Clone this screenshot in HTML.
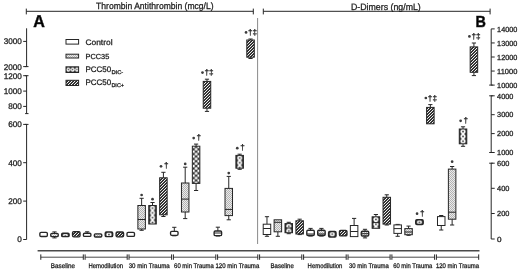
<!DOCTYPE html>
<html><head><meta charset="utf-8"><style>
html,body{margin:0;padding:0;background:#fff;}
body{width:520px;height:271px;overflow:hidden;}
svg{display:block;will-change:transform;}
text{font-family:"Liberation Sans", sans-serif;text-rendering:geometricPrecision;stroke:#1e1e1e;stroke-width:0.28px;}
</style></head><body>
<svg width="520" height="271" viewBox="0 0 520 271" font-family='"Liberation Sans", sans-serif'><defs>
<pattern id="p35" patternUnits="userSpaceOnUse" width="2" height="2"><rect width="2" height="2" fill="#ebebeb"/><rect width="1" height="1" fill="#b2b2b2"/><rect x="1" y="1" width="1" height="1" fill="#b2b2b2"/></pattern>
<pattern id="pm" patternUnits="userSpaceOnUse" x="66.2" y="67.5" width="4.3" height="4.3"><rect width="4.3" height="4.3" fill="#2a2a2a"/><circle cx="2.15" cy="2.15" r="1.95" fill="#fff"/><circle cx="2.15" cy="2.15" r="0.75" fill="#333"/></pattern>
<pattern id="pp" patternUnits="userSpaceOnUse" width="3" height="3"><rect width="3" height="3" fill="#2a2a2a"/><rect x="2" y="0" width="1" height="1" fill="#f0f0f0"/><rect x="1" y="1" width="1" height="1" fill="#f0f0f0"/><rect x="0" y="2" width="1" height="1" fill="#f0f0f0"/><rect x="0" y="0" width="1" height="1" fill="#404040"/><rect x="2" y="1" width="1" height="1" fill="#404040"/><rect x="1" y="2" width="1" height="1" fill="#404040"/></pattern>
<pattern id="pm0" patternUnits="userSpaceOnUse" x="61.63" y="233.40" width="7.5" height="4.8"><rect width="7.5" height="4.8" fill="#2a2a2a"/><circle cx="3.75" cy="2.4" r="2.5" fill="#fff"/><circle cx="3.75" cy="2.4" r="0.85" fill="#333"/></pattern><pattern id="pm1" patternUnits="userSpaceOnUse" x="105.20" y="232.20" width="7.5" height="4.8"><rect width="7.5" height="4.8" fill="#2a2a2a"/><circle cx="3.75" cy="2.4" r="2.5" fill="#fff"/><circle cx="3.75" cy="2.4" r="0.85" fill="#333"/></pattern><pattern id="pm2" patternUnits="userSpaceOnUse" x="148.77" y="205.70" width="7.5" height="4.8"><rect width="7.5" height="4.8" fill="#2a2a2a"/><circle cx="3.75" cy="2.4" r="2.5" fill="#fff"/><circle cx="3.75" cy="2.4" r="0.85" fill="#333"/></pattern><pattern id="pm3" patternUnits="userSpaceOnUse" x="193.59" y="146.80" width="5" height="4.8"><rect width="5" height="4.8" fill="#262626"/><circle cx="0" cy="0" r="1.45" fill="#fff"/><circle cx="5" cy="0" r="1.45" fill="#fff"/><circle cx="0" cy="4.8" r="1.45" fill="#fff"/><circle cx="5" cy="4.8" r="1.45" fill="#fff"/><circle cx="2.5" cy="2.4" r="1.45" fill="#fff"/></pattern><pattern id="pm4" patternUnits="userSpaceOnUse" x="235.91" y="155.60" width="7.5" height="4.8"><rect width="7.5" height="4.8" fill="#2a2a2a"/><circle cx="3.75" cy="2.4" r="2.5" fill="#fff"/><circle cx="3.75" cy="2.4" r="0.85" fill="#333"/></pattern><pattern id="pm5" patternUnits="userSpaceOnUse" x="285.00" y="223.80" width="7.5" height="4.8"><rect width="7.5" height="4.8" fill="#2a2a2a"/><circle cx="3.75" cy="2.4" r="2.5" fill="#fff"/><circle cx="3.75" cy="2.4" r="0.85" fill="#333"/></pattern><pattern id="pm6" patternUnits="userSpaceOnUse" x="328.57" y="231.70" width="7.5" height="4.8"><rect width="7.5" height="4.8" fill="#2a2a2a"/><circle cx="3.75" cy="2.4" r="2.5" fill="#fff"/><circle cx="3.75" cy="2.4" r="0.85" fill="#333"/></pattern><pattern id="pm7" patternUnits="userSpaceOnUse" x="372.14" y="217.00" width="7.5" height="4.8"><rect width="7.5" height="4.8" fill="#2a2a2a"/><circle cx="3.75" cy="2.4" r="2.5" fill="#fff"/><circle cx="3.75" cy="2.4" r="0.85" fill="#333"/></pattern><pattern id="pm8" patternUnits="userSpaceOnUse" x="415.71" y="219.90" width="7.5" height="4.8"><rect width="7.5" height="4.8" fill="#2a2a2a"/><circle cx="3.75" cy="2.4" r="2.5" fill="#fff"/><circle cx="3.75" cy="2.4" r="0.85" fill="#333"/></pattern><pattern id="pm9" patternUnits="userSpaceOnUse" x="459.28" y="129.20" width="7.5" height="4.8"><rect width="7.5" height="4.8" fill="#2a2a2a"/><circle cx="3.75" cy="2.4" r="2.5" fill="#fff"/><circle cx="3.75" cy="2.4" r="0.85" fill="#333"/></pattern></defs><rect width="520" height="271" fill="#fff"/><line x1="26.30" y1="11.30" x2="253.30" y2="11.30" stroke="#262626" stroke-width="1"/><line x1="26.30" y1="8.60" x2="26.30" y2="14.40" stroke="#262626" stroke-width="1"/><line x1="253.30" y1="8.60" x2="253.30" y2="14.40" stroke="#262626" stroke-width="1"/><line x1="263.30" y1="11.30" x2="490.10" y2="11.30" stroke="#262626" stroke-width="1"/><line x1="263.30" y1="8.60" x2="263.30" y2="14.40" stroke="#262626" stroke-width="1"/><line x1="490.10" y1="8.60" x2="490.10" y2="14.40" stroke="#262626" stroke-width="1"/><text x="96.10" y="8.70" font-size="9.2" font-weight="normal" fill="#1e1e1e" textLength="117.50" lengthAdjust="spacingAndGlyphs">Thrombin Antithrombin (mcg/L)</text><text x="350.90" y="9.70" font-size="9.2" font-weight="normal" fill="#1e1e1e" textLength="69.90" lengthAdjust="spacingAndGlyphs">D-Dimers (ng/mL)</text><line x1="257.60" y1="18.00" x2="257.60" y2="244.00" stroke="#8a8a8a" stroke-width="1"/><text x="33.20" y="27.20" font-size="17.0" font-weight="bold" fill="#000" stroke="#000" style="stroke-width:0.5px" textLength="11.60" lengthAdjust="spacingAndGlyphs">A</text><text x="475.40" y="26.60" font-size="16.0" font-weight="bold" fill="#000" stroke="#000" style="stroke-width:0.5px" textLength="10.40" lengthAdjust="spacingAndGlyphs">B</text><line x1="26.60" y1="28.30" x2="26.60" y2="66.60" stroke="#262626" stroke-width="1"/><line x1="26.60" y1="75.70" x2="26.60" y2="113.60" stroke="#262626" stroke-width="1"/><line x1="26.60" y1="124.40" x2="26.60" y2="239.50" stroke="#262626" stroke-width="1"/><line x1="23.20" y1="41.40" x2="26.60" y2="41.40" stroke="#262626" stroke-width="1"/><text x="21.90" y="44.30" font-size="8.2" text-anchor="end" font-weight="normal" fill="#1e1e1e" >3000</text><line x1="23.20" y1="66.60" x2="26.60" y2="66.60" stroke="#262626" stroke-width="1"/><text x="21.90" y="69.50" font-size="8.2" text-anchor="end" font-weight="normal" fill="#1e1e1e" >2000</text><line x1="23.20" y1="75.70" x2="26.60" y2="75.70" stroke="#262626" stroke-width="1"/><text x="21.90" y="78.60" font-size="8.2" text-anchor="end" font-weight="normal" fill="#1e1e1e" >1200</text><line x1="23.20" y1="91.10" x2="26.60" y2="91.10" stroke="#262626" stroke-width="1"/><text x="21.90" y="94.00" font-size="8.2" text-anchor="end" font-weight="normal" fill="#1e1e1e" >1000</text><line x1="23.20" y1="106.40" x2="26.60" y2="106.40" stroke="#262626" stroke-width="1"/><text x="21.90" y="109.30" font-size="8.2" text-anchor="end" font-weight="normal" fill="#1e1e1e" >800</text><line x1="23.20" y1="124.40" x2="26.60" y2="124.40" stroke="#262626" stroke-width="1"/><text x="21.90" y="127.30" font-size="8.2" text-anchor="end" font-weight="normal" fill="#1e1e1e" >600</text><line x1="23.20" y1="162.70" x2="26.60" y2="162.70" stroke="#262626" stroke-width="1"/><text x="21.90" y="165.60" font-size="8.2" text-anchor="end" font-weight="normal" fill="#1e1e1e" >400</text><line x1="23.20" y1="201.10" x2="26.60" y2="201.10" stroke="#262626" stroke-width="1"/><text x="21.90" y="204.00" font-size="8.2" text-anchor="end" font-weight="normal" fill="#1e1e1e" >200</text><line x1="23.20" y1="239.50" x2="26.60" y2="239.50" stroke="#262626" stroke-width="1"/><text x="21.90" y="242.40" font-size="8.2" text-anchor="end" font-weight="normal" fill="#1e1e1e" >0</text><line x1="25.10" y1="66.60" x2="28.50" y2="66.60" stroke="#262626" stroke-width="1"/><line x1="25.10" y1="75.70" x2="28.50" y2="75.70" stroke="#262626" stroke-width="1"/><line x1="25.10" y1="113.60" x2="28.50" y2="113.60" stroke="#262626" stroke-width="1"/><line x1="25.10" y1="124.40" x2="28.50" y2="124.40" stroke="#262626" stroke-width="1"/><line x1="491.20" y1="28.90" x2="491.20" y2="85.10" stroke="#262626" stroke-width="1"/><line x1="491.20" y1="95.80" x2="491.20" y2="152.50" stroke="#262626" stroke-width="1"/><line x1="491.20" y1="163.20" x2="491.20" y2="239.00" stroke="#262626" stroke-width="1"/><line x1="491.20" y1="28.90" x2="494.70" y2="28.90" stroke="#262626" stroke-width="1"/><text x="497.10" y="31.60" font-size="7.4" font-weight="normal" fill="#1e1e1e" textLength="20.20" lengthAdjust="spacingAndGlyphs">14000</text><line x1="491.20" y1="42.95" x2="494.70" y2="42.95" stroke="#262626" stroke-width="1"/><text x="497.10" y="45.65" font-size="7.4" font-weight="normal" fill="#1e1e1e" textLength="20.20" lengthAdjust="spacingAndGlyphs">13000</text><line x1="491.20" y1="57.00" x2="494.70" y2="57.00" stroke="#262626" stroke-width="1"/><text x="497.10" y="59.70" font-size="7.4" font-weight="normal" fill="#1e1e1e" textLength="20.20" lengthAdjust="spacingAndGlyphs">12000</text><line x1="491.20" y1="71.05" x2="494.70" y2="71.05" stroke="#262626" stroke-width="1"/><text x="497.10" y="73.75" font-size="7.4" font-weight="normal" fill="#1e1e1e" textLength="20.20" lengthAdjust="spacingAndGlyphs">11000</text><line x1="491.20" y1="85.10" x2="494.70" y2="85.10" stroke="#262626" stroke-width="1"/><text x="497.10" y="87.80" font-size="7.4" font-weight="normal" fill="#1e1e1e" textLength="20.20" lengthAdjust="spacingAndGlyphs">10000</text><line x1="491.20" y1="95.80" x2="494.70" y2="95.80" stroke="#262626" stroke-width="1"/><text x="497.10" y="98.50" font-size="7.4" font-weight="normal" fill="#1e1e1e" textLength="16.28" lengthAdjust="spacingAndGlyphs">4000</text><line x1="491.20" y1="114.70" x2="494.70" y2="114.70" stroke="#262626" stroke-width="1"/><text x="497.10" y="117.40" font-size="7.4" font-weight="normal" fill="#1e1e1e" textLength="16.28" lengthAdjust="spacingAndGlyphs">3000</text><line x1="491.20" y1="133.60" x2="494.70" y2="133.60" stroke="#262626" stroke-width="1"/><text x="497.10" y="136.30" font-size="7.4" font-weight="normal" fill="#1e1e1e" textLength="16.28" lengthAdjust="spacingAndGlyphs">2000</text><line x1="491.20" y1="152.50" x2="494.70" y2="152.50" stroke="#262626" stroke-width="1"/><text x="497.10" y="155.20" font-size="7.4" font-weight="normal" fill="#1e1e1e" textLength="16.28" lengthAdjust="spacingAndGlyphs">1000</text><line x1="491.20" y1="163.20" x2="494.70" y2="163.20" stroke="#262626" stroke-width="1"/><text x="497.10" y="165.90" font-size="7.4" font-weight="normal" fill="#1e1e1e" textLength="12.36" lengthAdjust="spacingAndGlyphs">600</text><line x1="491.20" y1="188.30" x2="494.70" y2="188.30" stroke="#262626" stroke-width="1"/><text x="497.10" y="191.00" font-size="7.4" font-weight="normal" fill="#1e1e1e" textLength="12.36" lengthAdjust="spacingAndGlyphs">400</text><line x1="491.20" y1="213.50" x2="494.70" y2="213.50" stroke="#262626" stroke-width="1"/><text x="497.10" y="216.20" font-size="7.4" font-weight="normal" fill="#1e1e1e" textLength="12.36" lengthAdjust="spacingAndGlyphs">200</text><line x1="491.20" y1="239.00" x2="494.70" y2="239.00" stroke="#262626" stroke-width="1"/><text x="497.10" y="241.70" font-size="7.4" font-weight="normal" fill="#1e1e1e" textLength="4.52" lengthAdjust="spacingAndGlyphs">0</text><line x1="489.20" y1="85.10" x2="492.70" y2="85.10" stroke="#262626" stroke-width="1"/><line x1="489.20" y1="95.80" x2="492.70" y2="95.80" stroke="#262626" stroke-width="1"/><line x1="489.20" y1="152.50" x2="492.70" y2="152.50" stroke="#262626" stroke-width="1"/><line x1="489.20" y1="163.20" x2="492.70" y2="163.20" stroke="#262626" stroke-width="1"/><line x1="37.60" y1="250.70" x2="479.50" y2="250.70" stroke="#4a4a4a" stroke-width="1.5"/><line x1="40.80" y1="257.20" x2="83.30" y2="257.20" stroke="#4a4a4a" stroke-width="1"/><line x1="40.80" y1="254.40" x2="40.80" y2="259.80" stroke="#262626" stroke-width="1"/><line x1="83.30" y1="254.40" x2="83.30" y2="259.80" stroke="#262626" stroke-width="1"/><text x="50.80" y="267.70" font-size="6.7" font-weight="normal" fill="#1e1e1e" textLength="24.20" lengthAdjust="spacingAndGlyphs">Baseline</text><line x1="85.10" y1="257.20" x2="127.20" y2="257.20" stroke="#4a4a4a" stroke-width="1"/><line x1="85.10" y1="254.40" x2="85.10" y2="259.80" stroke="#262626" stroke-width="1"/><line x1="127.20" y1="254.40" x2="127.20" y2="259.80" stroke="#262626" stroke-width="1"/><text x="88.40" y="267.70" font-size="6.7" font-weight="normal" fill="#1e1e1e" textLength="34.60" lengthAdjust="spacingAndGlyphs">Hemodilution</text><line x1="129.00" y1="257.20" x2="171.60" y2="257.20" stroke="#4a4a4a" stroke-width="1"/><line x1="129.00" y1="254.40" x2="129.00" y2="259.80" stroke="#262626" stroke-width="1"/><line x1="171.60" y1="254.40" x2="171.60" y2="259.80" stroke="#262626" stroke-width="1"/><text x="128.70" y="267.70" font-size="6.7" font-weight="normal" fill="#1e1e1e" textLength="41.00" lengthAdjust="spacingAndGlyphs">30 min Trauma</text><line x1="173.40" y1="257.20" x2="215.80" y2="257.20" stroke="#4a4a4a" stroke-width="1"/><line x1="173.40" y1="254.40" x2="173.40" y2="259.80" stroke="#262626" stroke-width="1"/><line x1="215.80" y1="254.40" x2="215.80" y2="259.80" stroke="#262626" stroke-width="1"/><text x="174.10" y="267.70" font-size="6.7" font-weight="normal" fill="#1e1e1e" textLength="39.70" lengthAdjust="spacingAndGlyphs">60 min Trauma</text><line x1="217.60" y1="257.20" x2="257.80" y2="257.20" stroke="#4a4a4a" stroke-width="1"/><line x1="217.60" y1="254.40" x2="217.60" y2="259.80" stroke="#262626" stroke-width="1"/><line x1="257.80" y1="254.40" x2="257.80" y2="259.80" stroke="#262626" stroke-width="1"/><text x="215.50" y="267.70" font-size="6.7" font-weight="normal" fill="#1e1e1e" textLength="43.80" lengthAdjust="spacingAndGlyphs">120 min Trauma</text><line x1="259.60" y1="257.20" x2="301.80" y2="257.20" stroke="#4a4a4a" stroke-width="1"/><line x1="259.60" y1="254.40" x2="259.60" y2="259.80" stroke="#262626" stroke-width="1"/><line x1="301.80" y1="254.40" x2="301.80" y2="259.80" stroke="#262626" stroke-width="1"/><text x="270.50" y="267.70" font-size="6.7" font-weight="normal" fill="#1e1e1e" textLength="23.30" lengthAdjust="spacingAndGlyphs">Baseline</text><line x1="303.60" y1="257.20" x2="346.20" y2="257.20" stroke="#4a4a4a" stroke-width="1"/><line x1="303.60" y1="254.40" x2="303.60" y2="259.80" stroke="#262626" stroke-width="1"/><line x1="346.20" y1="254.40" x2="346.20" y2="259.80" stroke="#262626" stroke-width="1"/><text x="307.60" y="267.70" font-size="6.7" font-weight="normal" fill="#1e1e1e" textLength="34.80" lengthAdjust="spacingAndGlyphs">Hemodilution</text><line x1="348.00" y1="257.20" x2="390.10" y2="257.20" stroke="#4a4a4a" stroke-width="1"/><line x1="348.00" y1="254.40" x2="348.00" y2="259.80" stroke="#262626" stroke-width="1"/><line x1="390.10" y1="254.40" x2="390.10" y2="259.80" stroke="#262626" stroke-width="1"/><text x="348.90" y="267.70" font-size="6.7" font-weight="normal" fill="#1e1e1e" textLength="39.90" lengthAdjust="spacingAndGlyphs">30 min Trauma</text><line x1="391.90" y1="257.20" x2="434.60" y2="257.20" stroke="#4a4a4a" stroke-width="1"/><line x1="391.90" y1="254.40" x2="391.90" y2="259.80" stroke="#262626" stroke-width="1"/><line x1="434.60" y1="254.40" x2="434.60" y2="259.80" stroke="#262626" stroke-width="1"/><text x="393.20" y="267.70" font-size="6.7" font-weight="normal" fill="#1e1e1e" textLength="39.10" lengthAdjust="spacingAndGlyphs">60 min Trauma</text><line x1="436.40" y1="257.20" x2="478.70" y2="257.20" stroke="#4a4a4a" stroke-width="1"/><line x1="436.40" y1="254.40" x2="436.40" y2="259.80" stroke="#262626" stroke-width="1"/><line x1="478.70" y1="254.40" x2="478.70" y2="259.80" stroke="#262626" stroke-width="1"/><text x="436.00" y="267.70" font-size="6.7" font-weight="normal" fill="#1e1e1e" textLength="43.00" lengthAdjust="spacingAndGlyphs">120 min Trauma</text><rect x="39.85" y="232.30" width="7.5" height="4.20" fill="#ffffff" stroke="#262626" stroke-width="1.35" rx="1.2"/><line x1="54.49" y1="231.90" x2="54.49" y2="233.40" stroke="#262626" stroke-width="1"/><line x1="52.39" y1="231.90" x2="56.59" y2="231.90" stroke="#262626" stroke-width="1"/><line x1="54.49" y1="236.60" x2="54.49" y2="237.90" stroke="#262626" stroke-width="1"/><line x1="52.39" y1="237.90" x2="56.59" y2="237.90" stroke="#262626" stroke-width="1"/><rect x="50.74" y="233.40" width="7.5" height="3.20" fill="url(#p35)" stroke="#262626" stroke-width="1.35" rx="1.2"/><rect x="61.63" y="233.20" width="7.5" height="3.40" fill="url(#pm0)" stroke="#262626" stroke-width="1.35" rx="1.2"/><rect x="72.53" y="231.60" width="7.5" height="5.20" fill="url(#pp)" stroke="#262626" stroke-width="1.35" rx="1.2"/><line x1="87.17" y1="231.80" x2="87.17" y2="233.20" stroke="#262626" stroke-width="1"/><line x1="85.07" y1="231.80" x2="89.27" y2="231.80" stroke="#262626" stroke-width="1"/><rect x="83.42" y="233.20" width="7.5" height="3.20" fill="#ffffff" stroke="#262626" stroke-width="1.35" rx="1.2"/><rect x="94.31" y="233.80" width="7.5" height="3.20" fill="url(#p35)" stroke="#262626" stroke-width="1.35" rx="1.2"/><rect x="105.20" y="232.00" width="7.5" height="4.60" fill="url(#pm1)" stroke="#262626" stroke-width="1.35" rx="1.2"/><rect x="116.09" y="232.00" width="7.5" height="4.80" fill="url(#pp)" stroke="#262626" stroke-width="1.35" rx="1.2"/><rect x="126.99" y="232.30" width="7.5" height="4.10" fill="#ffffff" stroke="#262626" stroke-width="1.35" rx="1.2"/><line x1="141.63" y1="198.30" x2="141.63" y2="205.50" stroke="#262626" stroke-width="1"/><line x1="139.53" y1="198.30" x2="143.73" y2="198.30" stroke="#262626" stroke-width="1"/><line x1="141.63" y1="229.00" x2="141.63" y2="230.30" stroke="#262626" stroke-width="1"/><line x1="139.53" y1="230.30" x2="143.73" y2="230.30" stroke="#262626" stroke-width="1"/><rect x="137.88" y="205.50" width="7.5" height="23.50" fill="url(#p35)" stroke="#262626" stroke-width="1"/><line x1="137.88" y1="219.50" x2="145.38" y2="219.50" stroke="#262626" stroke-width="1"/><circle cx="141.63" cy="195.00" r="1.35" fill="#3c3c3c"/><line x1="152.52" y1="202.50" x2="152.52" y2="205.50" stroke="#262626" stroke-width="1"/><line x1="150.42" y1="202.50" x2="154.62" y2="202.50" stroke="#262626" stroke-width="1"/><rect x="148.77" y="205.50" width="7.5" height="18.50" fill="url(#pm2)" stroke="#262626" stroke-width="1"/><circle cx="152.52" cy="199.20" r="1.35" fill="#3c3c3c"/><line x1="163.41" y1="172.30" x2="163.41" y2="177.80" stroke="#262626" stroke-width="1"/><line x1="161.31" y1="172.30" x2="165.51" y2="172.30" stroke="#262626" stroke-width="1"/><line x1="163.41" y1="214.80" x2="163.41" y2="216.50" stroke="#262626" stroke-width="1"/><line x1="161.31" y1="216.50" x2="165.51" y2="216.50" stroke="#262626" stroke-width="1"/><rect x="159.66" y="177.80" width="7.5" height="37.00" fill="url(#pp)" stroke="#262626" stroke-width="1"/><circle cx="161.01" cy="166.30" r="1.35" fill="#3c3c3c"/><text x="163.91" y="168.40" font-size="8.2" fill="#1e1e1e" stroke="#1e1e1e" stroke-width="0.3">†</text><line x1="174.30" y1="227.30" x2="174.30" y2="231.30" stroke="#262626" stroke-width="1"/><line x1="172.20" y1="227.30" x2="176.40" y2="227.30" stroke="#262626" stroke-width="1"/><line x1="174.30" y1="235.30" x2="174.30" y2="235.80" stroke="#262626" stroke-width="1"/><line x1="172.20" y1="235.80" x2="176.40" y2="235.80" stroke="#262626" stroke-width="1"/><rect x="170.55" y="231.30" width="7.5" height="4.00" fill="#ffffff" stroke="#262626" stroke-width="1.35" rx="1.2"/><line x1="185.20" y1="167.20" x2="185.20" y2="183.00" stroke="#262626" stroke-width="1"/><line x1="183.10" y1="167.20" x2="187.30" y2="167.20" stroke="#262626" stroke-width="1"/><line x1="185.20" y1="212.00" x2="185.20" y2="218.60" stroke="#262626" stroke-width="1"/><line x1="183.10" y1="218.60" x2="187.30" y2="218.60" stroke="#262626" stroke-width="1"/><rect x="181.45" y="183.00" width="7.5" height="29.00" fill="url(#p35)" stroke="#262626" stroke-width="1"/><line x1="181.45" y1="199.10" x2="188.95" y2="199.10" stroke="#262626" stroke-width="1"/><circle cx="185.20" cy="163.90" r="1.35" fill="#3c3c3c"/><line x1="196.09" y1="144.10" x2="196.09" y2="146.20" stroke="#262626" stroke-width="1"/><line x1="193.99" y1="144.10" x2="198.19" y2="144.10" stroke="#262626" stroke-width="1"/><line x1="196.09" y1="183.40" x2="196.09" y2="190.50" stroke="#262626" stroke-width="1"/><line x1="193.99" y1="190.50" x2="198.19" y2="190.50" stroke="#262626" stroke-width="1"/><rect x="192.34" y="146.20" width="7.5" height="37.20" fill="url(#pm3)" stroke="#262626" stroke-width="1"/><circle cx="193.69" cy="138.10" r="1.35" fill="#3c3c3c"/><text x="196.59" y="140.20" font-size="8.2" fill="#1e1e1e" stroke="#1e1e1e" stroke-width="0.3">†</text><line x1="206.98" y1="79.20" x2="206.98" y2="81.40" stroke="#262626" stroke-width="1"/><line x1="204.88" y1="79.20" x2="209.08" y2="79.20" stroke="#262626" stroke-width="1"/><line x1="206.98" y1="108.20" x2="206.98" y2="111.40" stroke="#262626" stroke-width="1"/><line x1="204.88" y1="111.40" x2="209.08" y2="111.40" stroke="#262626" stroke-width="1"/><rect x="203.23" y="81.40" width="7.5" height="26.80" fill="url(#pp)" stroke="#262626" stroke-width="1"/><circle cx="202.48" cy="72.60" r="1.35" fill="#3c3c3c"/><text x="204.48" y="75.30" font-size="8.2" fill="#1e1e1e" stroke="#1e1e1e" stroke-width="0.3">†‡</text><line x1="217.87" y1="227.20" x2="217.87" y2="231.00" stroke="#262626" stroke-width="1"/><line x1="215.77" y1="227.20" x2="219.97" y2="227.20" stroke="#262626" stroke-width="1"/><line x1="217.87" y1="235.60" x2="217.87" y2="236.00" stroke="#262626" stroke-width="1"/><line x1="215.77" y1="236.00" x2="219.97" y2="236.00" stroke="#262626" stroke-width="1"/><rect x="214.12" y="231.00" width="7.5" height="4.60" fill="#ffffff" stroke="#262626" stroke-width="1.35" rx="1.2"/><line x1="214.12" y1="233.00" x2="221.62" y2="233.00" stroke="#262626" stroke-width="1"/><line x1="228.76" y1="176.40" x2="228.76" y2="188.40" stroke="#262626" stroke-width="1"/><line x1="226.66" y1="176.40" x2="230.86" y2="176.40" stroke="#262626" stroke-width="1"/><line x1="228.76" y1="215.60" x2="228.76" y2="219.80" stroke="#262626" stroke-width="1"/><line x1="226.66" y1="219.80" x2="230.86" y2="219.80" stroke="#262626" stroke-width="1"/><rect x="225.01" y="188.40" width="7.5" height="27.20" fill="url(#p35)" stroke="#262626" stroke-width="1"/><line x1="225.01" y1="209.40" x2="232.51" y2="209.40" stroke="#262626" stroke-width="1"/><circle cx="228.76" cy="173.10" r="1.35" fill="#3c3c3c"/><line x1="239.66" y1="154.20" x2="239.66" y2="155.40" stroke="#262626" stroke-width="1"/><line x1="237.56" y1="154.20" x2="241.76" y2="154.20" stroke="#262626" stroke-width="1"/><line x1="239.66" y1="168.20" x2="239.66" y2="169.30" stroke="#262626" stroke-width="1"/><line x1="237.56" y1="169.30" x2="241.76" y2="169.30" stroke="#262626" stroke-width="1"/><rect x="235.91" y="155.40" width="7.5" height="12.80" fill="url(#pm4)" stroke="#262626" stroke-width="1"/><circle cx="237.26" cy="148.20" r="1.35" fill="#3c3c3c"/><text x="240.16" y="150.30" font-size="8.2" fill="#1e1e1e" stroke="#1e1e1e" stroke-width="0.3">†</text><line x1="250.55" y1="39.00" x2="250.55" y2="40.00" stroke="#262626" stroke-width="1"/><line x1="248.45" y1="39.00" x2="252.65" y2="39.00" stroke="#262626" stroke-width="1"/><line x1="250.55" y1="57.20" x2="250.55" y2="58.50" stroke="#262626" stroke-width="1"/><line x1="248.45" y1="58.50" x2="252.65" y2="58.50" stroke="#262626" stroke-width="1"/><rect x="246.80" y="40.00" width="7.5" height="17.20" fill="url(#pp)" stroke="#262626" stroke-width="1"/><circle cx="246.05" cy="32.40" r="1.35" fill="#3c3c3c"/><text x="248.05" y="35.10" font-size="8.2" fill="#1e1e1e" stroke="#1e1e1e" stroke-width="0.3">†‡</text><line x1="266.97" y1="216.70" x2="266.97" y2="224.20" stroke="#262626" stroke-width="1"/><line x1="264.87" y1="216.70" x2="269.07" y2="216.70" stroke="#262626" stroke-width="1"/><line x1="266.97" y1="234.50" x2="266.97" y2="236.30" stroke="#262626" stroke-width="1"/><line x1="264.87" y1="236.30" x2="269.07" y2="236.30" stroke="#262626" stroke-width="1"/><rect x="263.22" y="224.20" width="7.5" height="10.30" fill="#ffffff" stroke="#262626" stroke-width="1"/><line x1="263.22" y1="228.50" x2="270.72" y2="228.50" stroke="#262626" stroke-width="1"/><line x1="277.86" y1="231.80" x2="277.86" y2="236.30" stroke="#262626" stroke-width="1"/><line x1="275.76" y1="236.30" x2="279.96" y2="236.30" stroke="#262626" stroke-width="1"/><rect x="274.11" y="219.80" width="7.5" height="12.00" fill="url(#p35)" stroke="#262626" stroke-width="1"/><line x1="274.11" y1="222.30" x2="281.61" y2="222.30" stroke="#262626" stroke-width="1"/><line x1="288.75" y1="222.30" x2="288.75" y2="223.60" stroke="#262626" stroke-width="1"/><line x1="286.65" y1="222.30" x2="290.85" y2="222.30" stroke="#262626" stroke-width="1"/><line x1="288.75" y1="232.70" x2="288.75" y2="233.70" stroke="#262626" stroke-width="1"/><line x1="286.65" y1="233.70" x2="290.85" y2="233.70" stroke="#262626" stroke-width="1"/><rect x="285.00" y="223.60" width="7.5" height="9.10" fill="url(#pm5)" stroke="#262626" stroke-width="1"/><line x1="285.00" y1="228.00" x2="292.50" y2="228.00" stroke="#262626" stroke-width="1"/><line x1="299.65" y1="219.20" x2="299.65" y2="220.80" stroke="#262626" stroke-width="1"/><line x1="297.55" y1="219.20" x2="301.75" y2="219.20" stroke="#262626" stroke-width="1"/><line x1="299.65" y1="234.00" x2="299.65" y2="234.60" stroke="#262626" stroke-width="1"/><line x1="297.55" y1="234.60" x2="301.75" y2="234.60" stroke="#262626" stroke-width="1"/><rect x="295.90" y="220.80" width="7.5" height="13.20" fill="url(#pp)" stroke="#262626" stroke-width="1"/><line x1="310.54" y1="228.40" x2="310.54" y2="230.20" stroke="#262626" stroke-width="1"/><line x1="308.44" y1="228.40" x2="312.64" y2="228.40" stroke="#262626" stroke-width="1"/><line x1="310.54" y1="235.50" x2="310.54" y2="236.00" stroke="#262626" stroke-width="1"/><line x1="308.44" y1="236.00" x2="312.64" y2="236.00" stroke="#262626" stroke-width="1"/><rect x="306.79" y="230.20" width="7.5" height="5.30" fill="#ffffff" stroke="#262626" stroke-width="1.35" rx="1.2"/><line x1="306.79" y1="234.00" x2="314.29" y2="234.00" stroke="#262626" stroke-width="1"/><line x1="321.43" y1="228.40" x2="321.43" y2="230.20" stroke="#262626" stroke-width="1"/><line x1="319.33" y1="228.40" x2="323.53" y2="228.40" stroke="#262626" stroke-width="1"/><line x1="321.43" y1="235.50" x2="321.43" y2="236.00" stroke="#262626" stroke-width="1"/><line x1="319.33" y1="236.00" x2="323.53" y2="236.00" stroke="#262626" stroke-width="1"/><rect x="317.68" y="230.20" width="7.5" height="5.30" fill="url(#p35)" stroke="#262626" stroke-width="1.35" rx="1.2"/><line x1="317.68" y1="234.00" x2="325.18" y2="234.00" stroke="#262626" stroke-width="1"/><rect x="328.57" y="231.50" width="7.5" height="5.50" fill="url(#pm6)" stroke="#262626" stroke-width="1.35" rx="1.2"/><rect x="339.46" y="230.40" width="7.5" height="5.50" fill="url(#pp)" stroke="#262626" stroke-width="1.35" rx="1.2"/><line x1="354.11" y1="218.40" x2="354.11" y2="225.50" stroke="#262626" stroke-width="1"/><line x1="352.01" y1="218.40" x2="356.21" y2="218.40" stroke="#262626" stroke-width="1"/><rect x="350.36" y="225.50" width="7.5" height="11.10" fill="#ffffff" stroke="#262626" stroke-width="1"/><line x1="350.36" y1="231.50" x2="357.86" y2="231.50" stroke="#262626" stroke-width="1"/><line x1="365.00" y1="229.30" x2="365.00" y2="231.20" stroke="#262626" stroke-width="1"/><line x1="362.90" y1="229.30" x2="367.10" y2="229.30" stroke="#262626" stroke-width="1"/><line x1="365.00" y1="236.00" x2="365.00" y2="237.90" stroke="#262626" stroke-width="1"/><line x1="362.90" y1="237.90" x2="367.10" y2="237.90" stroke="#262626" stroke-width="1"/><rect x="361.25" y="231.20" width="7.5" height="4.80" fill="url(#p35)" stroke="#262626" stroke-width="1.35" rx="1.2"/><line x1="361.25" y1="233.70" x2="368.75" y2="233.70" stroke="#262626" stroke-width="1"/><line x1="375.89" y1="214.50" x2="375.89" y2="216.80" stroke="#262626" stroke-width="1"/><line x1="373.79" y1="214.50" x2="377.99" y2="214.50" stroke="#262626" stroke-width="1"/><rect x="372.14" y="216.80" width="7.5" height="11.50" fill="url(#pm7)" stroke="#262626" stroke-width="1"/><line x1="372.14" y1="222.60" x2="379.64" y2="222.60" stroke="#262626" stroke-width="1"/><line x1="386.78" y1="194.80" x2="386.78" y2="197.30" stroke="#262626" stroke-width="1"/><line x1="384.68" y1="194.80" x2="388.88" y2="194.80" stroke="#262626" stroke-width="1"/><line x1="386.78" y1="224.10" x2="386.78" y2="225.00" stroke="#262626" stroke-width="1"/><line x1="384.68" y1="225.00" x2="388.88" y2="225.00" stroke="#262626" stroke-width="1"/><rect x="383.03" y="197.30" width="7.5" height="26.80" fill="url(#pp)" stroke="#262626" stroke-width="1"/><line x1="397.67" y1="224.40" x2="397.67" y2="224.90" stroke="#262626" stroke-width="1"/><line x1="395.57" y1="224.40" x2="399.77" y2="224.40" stroke="#262626" stroke-width="1"/><line x1="397.67" y1="233.40" x2="397.67" y2="236.30" stroke="#262626" stroke-width="1"/><line x1="395.57" y1="236.30" x2="399.77" y2="236.30" stroke="#262626" stroke-width="1"/><rect x="393.92" y="224.90" width="7.5" height="8.50" fill="#ffffff" stroke="#262626" stroke-width="1"/><line x1="393.92" y1="228.60" x2="401.42" y2="228.60" stroke="#262626" stroke-width="1"/><line x1="408.57" y1="226.10" x2="408.57" y2="228.60" stroke="#262626" stroke-width="1"/><line x1="406.47" y1="226.10" x2="410.67" y2="226.10" stroke="#262626" stroke-width="1"/><line x1="408.57" y1="234.70" x2="408.57" y2="235.30" stroke="#262626" stroke-width="1"/><line x1="406.47" y1="235.30" x2="410.67" y2="235.30" stroke="#262626" stroke-width="1"/><rect x="404.82" y="228.60" width="7.5" height="6.10" fill="url(#p35)" stroke="#262626" stroke-width="1"/><line x1="404.82" y1="232.00" x2="412.32" y2="232.00" stroke="#262626" stroke-width="1"/><rect x="415.71" y="219.70" width="7.5" height="4.80" fill="url(#pm8)" stroke="#262626" stroke-width="1.35" rx="1.2"/><circle cx="417.06" cy="213.70" r="1.35" fill="#3c3c3c"/><text x="419.96" y="215.80" font-size="8.2" fill="#1e1e1e" stroke="#1e1e1e" stroke-width="0.3">†</text><line x1="430.35" y1="104.60" x2="430.35" y2="107.40" stroke="#262626" stroke-width="1"/><line x1="428.25" y1="104.60" x2="432.45" y2="104.60" stroke="#262626" stroke-width="1"/><rect x="426.60" y="107.40" width="7.5" height="16.40" fill="url(#pp)" stroke="#262626" stroke-width="1"/><circle cx="425.85" cy="98.00" r="1.35" fill="#3c3c3c"/><text x="427.85" y="100.70" font-size="8.2" fill="#1e1e1e" stroke="#1e1e1e" stroke-width="0.3">†‡</text><line x1="441.24" y1="215.50" x2="441.24" y2="216.60" stroke="#262626" stroke-width="1"/><line x1="439.14" y1="215.50" x2="443.34" y2="215.50" stroke="#262626" stroke-width="1"/><line x1="441.24" y1="225.50" x2="441.24" y2="230.00" stroke="#262626" stroke-width="1"/><line x1="439.14" y1="230.00" x2="443.34" y2="230.00" stroke="#262626" stroke-width="1"/><rect x="437.49" y="216.60" width="7.5" height="8.90" fill="#ffffff" stroke="#262626" stroke-width="1"/><line x1="452.13" y1="166.50" x2="452.13" y2="169.10" stroke="#262626" stroke-width="1"/><line x1="450.03" y1="166.50" x2="454.23" y2="166.50" stroke="#262626" stroke-width="1"/><line x1="452.13" y1="219.20" x2="452.13" y2="225.00" stroke="#262626" stroke-width="1"/><line x1="450.03" y1="225.00" x2="454.23" y2="225.00" stroke="#262626" stroke-width="1"/><rect x="448.38" y="169.10" width="7.5" height="50.10" fill="url(#p35)" stroke="#262626" stroke-width="1"/><line x1="448.38" y1="212.20" x2="455.88" y2="212.20" stroke="#262626" stroke-width="1"/><circle cx="452.13" cy="161.70" r="1.35" fill="#3c3c3c"/><line x1="463.03" y1="126.80" x2="463.03" y2="129.00" stroke="#262626" stroke-width="1"/><line x1="460.93" y1="126.80" x2="465.13" y2="126.80" stroke="#262626" stroke-width="1"/><line x1="463.03" y1="143.80" x2="463.03" y2="146.30" stroke="#262626" stroke-width="1"/><line x1="460.93" y1="146.30" x2="465.13" y2="146.30" stroke="#262626" stroke-width="1"/><rect x="459.28" y="129.00" width="7.5" height="14.80" fill="url(#pm9)" stroke="#262626" stroke-width="1"/><circle cx="460.63" cy="120.80" r="1.35" fill="#3c3c3c"/><text x="463.53" y="122.90" font-size="8.2" fill="#1e1e1e" stroke="#1e1e1e" stroke-width="0.3">†</text><line x1="473.92" y1="43.00" x2="473.92" y2="46.90" stroke="#262626" stroke-width="1"/><line x1="471.82" y1="43.00" x2="476.02" y2="43.00" stroke="#262626" stroke-width="1"/><line x1="473.92" y1="72.30" x2="473.92" y2="75.60" stroke="#262626" stroke-width="1"/><line x1="471.82" y1="75.60" x2="476.02" y2="75.60" stroke="#262626" stroke-width="1"/><rect x="470.17" y="46.90" width="7.5" height="25.40" fill="url(#pp)" stroke="#262626" stroke-width="1"/><circle cx="469.42" cy="36.40" r="1.35" fill="#3c3c3c"/><text x="471.42" y="39.10" font-size="8.2" fill="#1e1e1e" stroke="#1e1e1e" stroke-width="0.3">†‡</text><rect x="66.0" y="39.50" width="12.6" height="4.60" fill="#ffffff" stroke="#262626" stroke-width="1"/><text x="85.50" y="44.80" font-size="8.0" font-weight="normal" fill="#1e1e1e" textLength="27.00" lengthAdjust="spacingAndGlyphs">Control</text><rect x="66.0" y="54.20" width="12.6" height="3.80" fill="url(#p35)" stroke="#262626" stroke-width="1"/><text x="85.50" y="59.30" font-size="7.3" font-weight="normal" fill="#1e1e1e" textLength="23.80" lengthAdjust="spacingAndGlyphs">PCC35</text><rect x="66.0" y="66.80" width="12.6" height="5.70" fill="url(#pm)" stroke="#262626" stroke-width="1"/><text x="85.50" y="71.80" font-size="8.0" font-weight="normal" fill="#1e1e1e" textLength="25.70" lengthAdjust="spacingAndGlyphs">PCC50</text><text x="111.40" y="73.90" font-size="5.3" font-weight="normal" fill="#1e1e1e" textLength="11.90" lengthAdjust="spacingAndGlyphs">DIC-</text><rect x="66.0" y="80.30" width="12.6" height="5.20" fill="url(#pp)" stroke="#262626" stroke-width="1"/><text x="85.50" y="85.20" font-size="8.0" font-weight="normal" fill="#1e1e1e" textLength="25.70" lengthAdjust="spacingAndGlyphs">PCC50</text><text x="111.40" y="87.20" font-size="5.3" font-weight="normal" fill="#1e1e1e" textLength="12.70" lengthAdjust="spacingAndGlyphs">DIC+</text></svg>
</body></html>
